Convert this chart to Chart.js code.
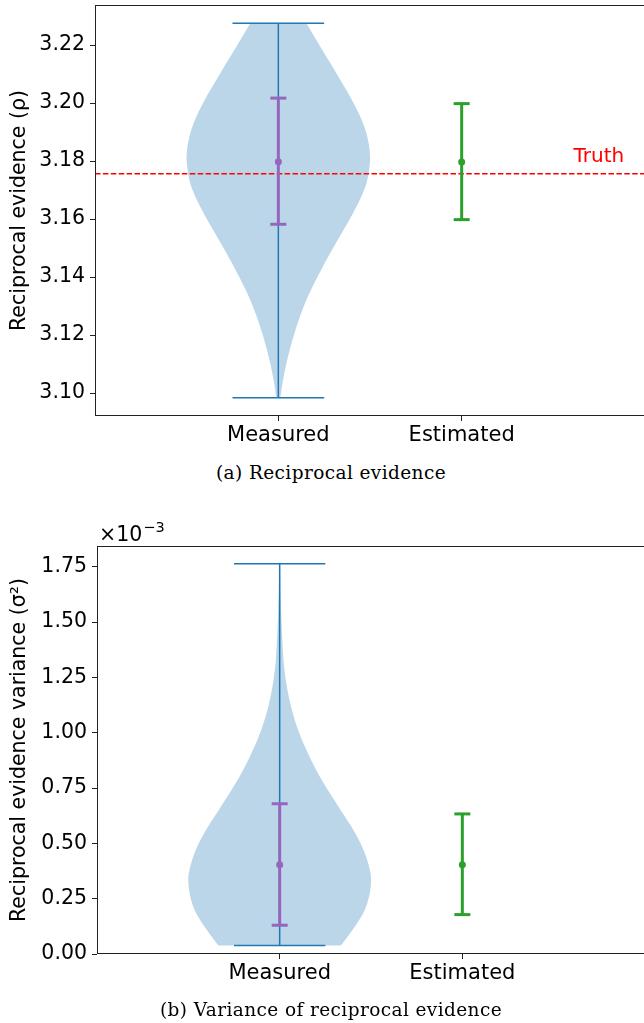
<!DOCTYPE html>
<html>
<head>
<meta charset="utf-8">
<script src="https://cdn.jsdelivr.net/npm/chart.js@4.4.1/dist/chart.umd.min.js"></script>
<style>
  html, body { margin: 0; padding: 0; background: #fff; width: 644px; height: 1023px; overflow: hidden; }
  .panel { position: absolute; left: 0; width: 646px; }
  .caption { position: absolute; left: 0; width: 662px; text-align: center; letter-spacing: 0.4px;
             font-family: 'DejaVu Serif', serif; font-size: 18.5px; color: #000; white-space: nowrap; }
</style>
</head>
<body>
<div class="panel" style="top:0;height:460px"><canvas id="rhoChart"></canvas></div>
<div class="caption" style="top:462px">(a) Reciprocal evidence</div>
<div class="panel" style="top:500px;height:500px"><canvas id="varChart"></canvas></div>
<div class="caption" style="top:999px">(b) Variance of reciprocal evidence</div>
<script>
const categories = ['Measured', 'Estimated'];

// (a) reciprocal evidence
const rhoTicks = [3.10, 3.12, 3.14, 3.16, 3.18, 3.20, 3.22];
const rhoTruth = 3.1756;
const rhoMin = 3.0984;
const rhoMax = 3.2275;
const rhoKdeY = [3.0984, 3.0993, 3.1039, 3.1097, 3.1154, 3.1211, 3.1269, 3.1327, 3.1384, 3.1441, 3.1499, 3.1556,
                 3.1614, 3.1671, 3.1729, 3.1798, 3.1844, 3.1901, 3.1959, 3.2016, 3.2073, 3.2131, 3.2189, 3.2275];
const rhoKdeHalfWidth = [0.010, 0.013, 0.024, 0.042, 0.064, 0.090, 0.121, 0.157, 0.200, 0.247, 0.298, 0.350,
                         0.402, 0.448, 0.483, 0.500, 0.497, 0.478, 0.443, 0.397, 0.344, 0.290, 0.234, 0.153];
const rhoMean = [3.1798, 3.1797];
const rhoLow = [3.1582, 3.1598];
const rhoHigh = [3.2017, 3.1998];

// (b) variance of reciprocal evidence, in units of 1e-3
const varTicks = [0.00, 0.25, 0.50, 0.75, 1.00, 1.25, 1.50, 1.75];
const varMin = 0.038;
const varMax = 1.763;
const varKdeY = [0.038, 0.048, 0.123, 0.199, 0.274, 0.349, 0.425, 0.500, 0.575, 0.651, 0.726, 0.801,
                 0.877, 0.952, 1.027, 1.103, 1.178, 1.253, 1.329, 1.479, 1.630, 1.763];
const varKdeHalfWidth = [0.333, 0.344, 0.411, 0.466, 0.493, 0.500, 0.479, 0.443, 0.393, 0.333, 0.275, 0.220,
                         0.172, 0.130, 0.095, 0.067, 0.046, 0.031, 0.021, 0.011, 0.005, 0.002];
const varMean = [0.403, 0.403];
const varLow = [0.130, 0.178];
const varHigh = [0.679, 0.633];

const BLUE = '#1f77b4';
const GREEN = '#2ca02c';
const PURPLE = '#9467bd';
const FONT = "'DejaVu Sans', sans-serif";

// closed outline: left edge upwards, right edge downwards.
// the two top corners are repeated so the spline keeps them sharp
function violinShape(center, ys, ws) {
    const left = ys.map((y, i) => ({ x: center - ws[i], y }));
    const right = ys.map((y, i) => ({ x: center + ws[i], y })).reverse();
    return left.concat([left[left.length - 1], right[0]], right);
}

function errorBar(x, lo, mean, hi, color) {
    return {
        data: [{ x, y: lo }, { x, y: mean }, { x, y: hi }],
        showLine: true,
        borderColor: color,
        backgroundColor: color,
        borderWidth: 3,
        pointStyle: ['line', 'circle', 'line'],
        pointRadius: [8, 3.5, 8],
        pointBorderWidth: [3, 0, 3],
        pointBorderColor: color,
        pointBackgroundColor: color,
        order: 0
    };
}

// draws the frame of the axes and free text placed in data coordinates
const overlayPlugin = {
    id: 'overlay',
    afterDraw(chart, args, opts) {
        const { ctx, chartArea: a, scales } = chart;
        ctx.save();
        ctx.strokeStyle = '#222';
        ctx.lineWidth = 1;
        const l = Math.round(a.left) + 0.5, t = Math.round(a.top) + 0.5;
        const r = Math.round(a.right) - 0.5, b = Math.round(a.bottom) - 0.5;
        ctx.strokeRect(l, t, r - l, b - t);

        (opts.notes || []).forEach(n => {
            ctx.fillStyle = n.color || '#000';
            ctx.font = n.size + 'px ' + FONT;
            ctx.textAlign = 'left';
            ctx.textBaseline = 'alphabetic';
            ctx.fillText(n.text, scales.x.getPixelForValue(n.x), scales.y.getPixelForValue(n.y));
        });

        if (opts.offsetText) {
            ctx.fillStyle = '#000';
            ctx.font = '20.5px ' + FONT;
            ctx.textAlign = 'left';
            ctx.textBaseline = 'alphabetic';
            const x0 = a.left + 2, y0 = a.top - 5;
            ctx.fillText(opts.offsetText[0], x0, y0);
            const w = ctx.measureText(opts.offsetText[0]).width;
            ctx.font = '14.5px ' + FONT;
            ctx.fillText(opts.offsetText[1], x0 + w + 1, y0 - 9);
        }
        ctx.restore();
    }
};

function noPadding(s) {
    s.paddingTop = 0;
    s.paddingBottom = 0;
    s.paddingLeft = 0;
    s.paddingRight = 0;
}

function makeChart(id, cfg) {
    const datasets = [
        errorBar(1, cfg.low[0], cfg.mean[0], cfg.high[0], PURPLE),
        errorBar(2, cfg.low[1], cfg.mean[1], cfg.high[1], GREEN)
    ];
    if (cfg.truth !== undefined) {
        datasets.push({
            data: [{ x: 0, y: cfg.truth }, { x: 3, y: cfg.truth }],
            showLine: true,
            borderColor: '#ff0000',
            borderWidth: 1.5,
            borderDash: [5.5, 2.4],
            pointRadius: 0,
            order: 1
        });
    }
    datasets.push({
        data: [
            { x: 0.75, y: cfg.max }, { x: 1.25, y: cfg.max }, { x: 1, y: null },
            { x: 1, y: cfg.max }, { x: 1, y: cfg.min }, { x: 1, y: null },
            { x: 0.75, y: cfg.min }, { x: 1.25, y: cfg.min }
        ],
        showLine: true,
        borderColor: BLUE,
        borderWidth: 1.5,
        pointRadius: 0,
        order: 2
    });
    datasets.push({
        data: violinShape(1, cfg.kdeY, cfg.kdeW),
        showLine: true,
        fill: 'shape',
        backgroundColor: 'rgba(31, 119, 180, 0.3)',
        borderColor: 'rgba(0, 0, 0, 0)',
        borderWidth: 0,
        pointRadius: 0,
        tension: 0.3,
        order: 3
    });

    return new Chart(document.getElementById(id), {
        type: 'scatter',
        data: { datasets },
        plugins: [overlayPlugin],
        options: {
            responsive: true,
            maintainAspectRatio: false,
            animation: false,
            layout: { autoPadding: false, padding: { top: cfg.padTop, right: 1, left: 0, bottom: 0 } },
            plugins: {
                legend: { display: false },
                tooltip: { enabled: false },
                overlay: { notes: cfg.notes, offsetText: cfg.offsetText }
            },
            scales: {
                x: {
                    type: 'linear',
                    min: 0,
                    max: 3,
                    afterBuildTicks: s => { s.ticks = categories.map((c, i) => ({ value: i + 1 })); },
                    afterFit: s => { s.height = cfg.xHeight; noPadding(s); },
                    ticks: {
                        callback: v => categories[v - 1],
                        color: '#000',
                        font: { family: FONT, size: 21 },
                        padding: 2,
                        maxRotation: 0,
                        autoSkip: false
                    },
                    grid: { drawOnChartArea: false, color: '#222', tickColor: '#222', tickLength: 5 },
                    border: { display: false }
                },
                y: {
                    type: 'linear',
                    min: cfg.yMin,
                    max: cfg.yMax,
                    afterBuildTicks: s => { s.ticks = cfg.ticks.map(v => ({ value: v })); },
                    afterFit: s => { s.width = cfg.yWidth; noPadding(s); },
                    ticks: {
                        callback: v => v.toFixed(2),
                        color: '#000',
                        font: { family: FONT, size: 20.5 },
                        padding: 5
                    },
                    grid: { drawOnChartArea: false, color: '#222', tickColor: '#222', tickLength: 5 },
                    border: { display: false },
                    title: {
                        display: true,
                        text: cfg.yTitle,
                        color: '#000',
                        font: { family: FONT, size: 20.5 },
                        padding: { top: 7, bottom: 0 }
                    }
                }
            }
        }
    });
}

makeChart('rhoChart', {
    ticks: rhoTicks, yMin: 3.0921, yMax: 3.2338,
    min: rhoMin, max: rhoMax, kdeY: rhoKdeY, kdeW: rhoKdeHalfWidth,
    mean: rhoMean, low: rhoLow, high: rhoHigh, truth: rhoTruth,
    yTitle: 'Reciprocal evidence (\u03c1)',
    notes: [{ text: 'Truth', x: 2.61, y: 3.1796, size: 20, color: '#ff0000' }],
    padTop: 5, xHeight: 44, yWidth: 95
});

makeChart('varChart', {
    ticks: varTicks, yMin: 0, yMax: 1.8437,
    min: varMin, max: varMax, kdeY: varKdeY, kdeW: varKdeHalfWidth,
    mean: varMean, low: varLow, high: varHigh,
    yTitle: 'Reciprocal evidence variance (\u03c3\u00b2)',
    notes: [],
    offsetText: ['\u00d710', '\u22123'],
    padTop: 46, xHeight: 46, yWidth: 97
});
</script>
</body>
</html>
